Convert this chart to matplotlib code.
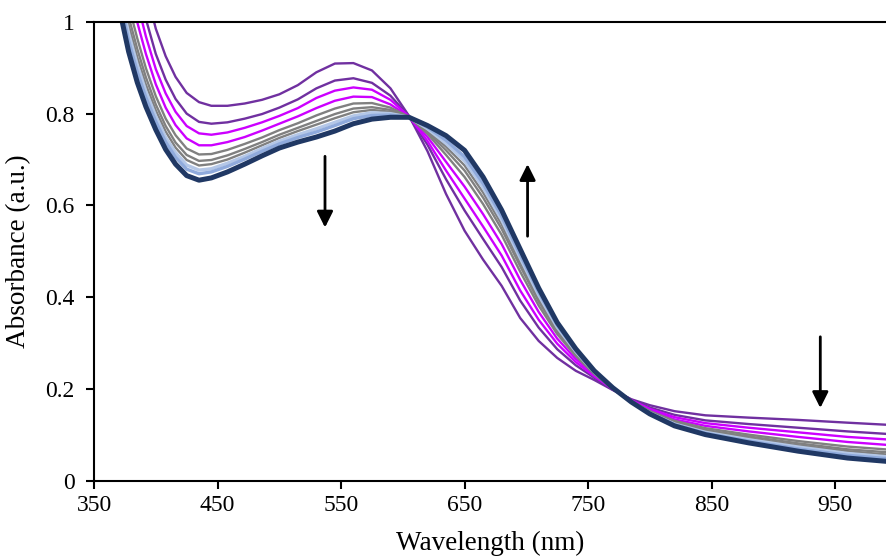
import numpy as np
import matplotlib.pyplot as plt

plt.rcParams['font.family'] = ['Liberation Serif', 'DejaVu Serif']

wl = [372, 378, 385, 392, 400, 408, 416, 425, 435, 445, 458, 472, 486, 500, 515, 530, 545, 560, 575, 590,
      605, 620, 635, 650, 665, 680, 695, 710, 725, 740, 755, 770, 785, 800, 820, 845, 880, 920, 960, 995]

c1 = [1.300, 1.240, 1.160, 1.070, 0.985, 0.925, 0.880, 0.845, 0.825, 0.817, 0.817, 0.822, 0.830, 0.842,
      0.862, 0.890, 0.909, 0.910, 0.894, 0.855, 0.795, 0.718, 0.625, 0.545, 0.482, 0.425, 0.355, 0.305,
      0.268, 0.240, 0.220, 0.198, 0.178, 0.165, 0.152, 0.143, 0.138, 0.133, 0.127, 0.122]
c2 = [1.228, 1.164, 1.087, 1.006, 0.930, 0.874, 0.832, 0.800, 0.782, 0.778, 0.781, 0.789, 0.799, 0.813,
      0.831, 0.855, 0.872, 0.877, 0.867, 0.839, 0.794, 0.732, 0.657, 0.589, 0.527, 0.466, 0.393, 0.334,
      0.287, 0.252, 0.225, 0.199, 0.177, 0.160, 0.144, 0.132, 0.124, 0.116, 0.108, 0.102]
c3 = [1.184, 1.118, 1.043, 0.968, 0.897, 0.844, 0.804, 0.773, 0.757, 0.754, 0.759, 0.769, 0.781, 0.795,
      0.812, 0.834, 0.850, 0.857, 0.852, 0.830, 0.794, 0.740, 0.676, 0.615, 0.554, 0.491, 0.415, 0.351,
      0.299, 0.259, 0.228, 0.200, 0.176, 0.157, 0.139, 0.126, 0.116, 0.106, 0.096, 0.090]
c4 = [1.141, 1.072, 0.999, 0.930, 0.864, 0.813, 0.775, 0.746, 0.731, 0.731, 0.738, 0.749, 0.763, 0.778,
      0.794, 0.812, 0.828, 0.837, 0.836, 0.820, 0.793, 0.749, 0.695, 0.641, 0.581, 0.516, 0.438, 0.368,
      0.310, 0.266, 0.231, 0.201, 0.175, 0.155, 0.134, 0.120, 0.108, 0.096, 0.085, 0.078]
c5 = [1.106, 1.036, 0.964, 0.899, 0.838, 0.789, 0.753, 0.724, 0.711, 0.712, 0.721, 0.734, 0.748, 0.764,
      0.779, 0.796, 0.811, 0.822, 0.823, 0.813, 0.793, 0.756, 0.710, 0.662, 0.603, 0.536, 0.456, 0.382,
      0.320, 0.272, 0.233, 0.201, 0.174, 0.152, 0.131, 0.115, 0.101, 0.087, 0.075, 0.068]
c6 = [1.083, 1.011, 0.941, 0.879, 0.820, 0.773, 0.737, 0.710, 0.697, 0.699, 0.709, 0.723, 0.738, 0.754,
      0.769, 0.784, 0.799, 0.811, 0.814, 0.808, 0.793, 0.760, 0.720, 0.676, 0.617, 0.549, 0.468, 0.391,
      0.326, 0.276, 0.235, 0.202, 0.174, 0.151, 0.128, 0.111, 0.097, 0.082, 0.069, 0.062]
c7 = [1.065, 0.993, 0.923, 0.863, 0.807, 0.761, 0.726, 0.699, 0.687, 0.690, 0.700, 0.715, 0.731, 0.747,
      0.762, 0.776, 0.790, 0.803, 0.808, 0.804, 0.793, 0.763, 0.728, 0.687, 0.628, 0.559, 0.477, 0.398,
      0.330, 0.279, 0.236, 0.202, 0.173, 0.150, 0.126, 0.109, 0.093, 0.078, 0.065, 0.057]
c8 = [1.048, 0.975, 0.906, 0.848, 0.794, 0.748, 0.715, 0.688, 0.677, 0.680, 0.692, 0.707, 0.724, 0.740,
      0.754, 0.767, 0.781, 0.795, 0.802, 0.800, 0.792, 0.767, 0.735, 0.697, 0.639, 0.569, 0.486, 0.405,
      0.335, 0.282, 0.237, 0.202, 0.173, 0.148, 0.124, 0.106, 0.090, 0.074, 0.060, 0.052]
c9 = [1.033, 0.959, 0.891, 0.835, 0.783, 0.738, 0.705, 0.679, 0.669, 0.673, 0.685, 0.701, 0.718, 0.734,
      0.748, 0.760, 0.774, 0.789, 0.796, 0.797, 0.792, 0.770, 0.742, 0.706, 0.648, 0.577, 0.493, 0.411,
      0.339, 0.284, 0.238, 0.203, 0.172, 0.148, 0.123, 0.104, 0.087, 0.070, 0.056, 0.048]
c10 = [1.010, 0.935, 0.868, 0.815, 0.765, 0.722, 0.690, 0.665, 0.655, 0.660, 0.673, 0.690, 0.708, 0.725,
       0.738, 0.749, 0.762, 0.778, 0.788, 0.792, 0.792, 0.774, 0.752, 0.720, 0.662, 0.590, 0.505, 0.420,
       0.345, 0.288, 0.240, 0.203, 0.172, 0.146, 0.120, 0.101, 0.083, 0.065, 0.050, 0.042]

spectra = [c1, c2, c3, c4, c5, c6, c7, c8, c9, c10]
colors = ['#7030A0', '#7030A0', '#CC00FF', '#CC00FF', '#808080', '#808080', '#808080',
          '#B4C7E7', '#8FAADC', '#203864']
widths = [1.7, 1.7, 1.7, 1.7, 1.7, 1.7, 1.7, 2.4, 2.4, 3.6]

# arrows: x, tail, head
arrows = [(537, 0.707, 0.552), (701, 0.533, 0.690), (938, 0.314, 0.159)]

fig = plt.figure(figsize=(8.87, 5.58), dpi=100)
ax = fig.add_axes([0.106, 0.138, 0.894, 0.823])

for s, c, w in zip(spectra, colors, widths):
    ax.plot(wl, s, color=c, lw=w, solid_joinstyle='round', solid_capstyle='round')

for x, y0, y1 in arrows:
    ax.annotate('', xy=(x, y1), xytext=(x, y0),
                arrowprops=dict(arrowstyle='-|>', color='black', lw=2,
                                mutation_scale=24, shrinkA=0, shrinkB=0))

ax.set_xlim(350, 992)
ax.set_ylim(0, 1)
ax.set_xticks([350, 450, 550, 650, 750, 850, 950])
ax.set_yticks([0, 0.2, 0.4, 0.6, 0.8, 1])
ax.set_yticklabels(['0', '0.2', '0.4', '0.6', '0.8', '1'])
ax.tick_params(direction='out', length=6, width=1.5, labelsize=17, top=False, right=False)
ax.tick_params(axis='y', pad=8)
ax.tick_params(axis='x', pad=4)
ax.spines['right'].set_visible(False)
for sp in ['left', 'bottom', 'top']:
    ax.spines[sp].set_linewidth(1.5)
ax.set_xlabel('Wavelength (nm)', fontsize=19.5, labelpad=11)
ax.set_ylabel('Absorbance (a.u.)', fontsize=19.5, labelpad=10)

plt.savefig('out.png', dpi=100)
